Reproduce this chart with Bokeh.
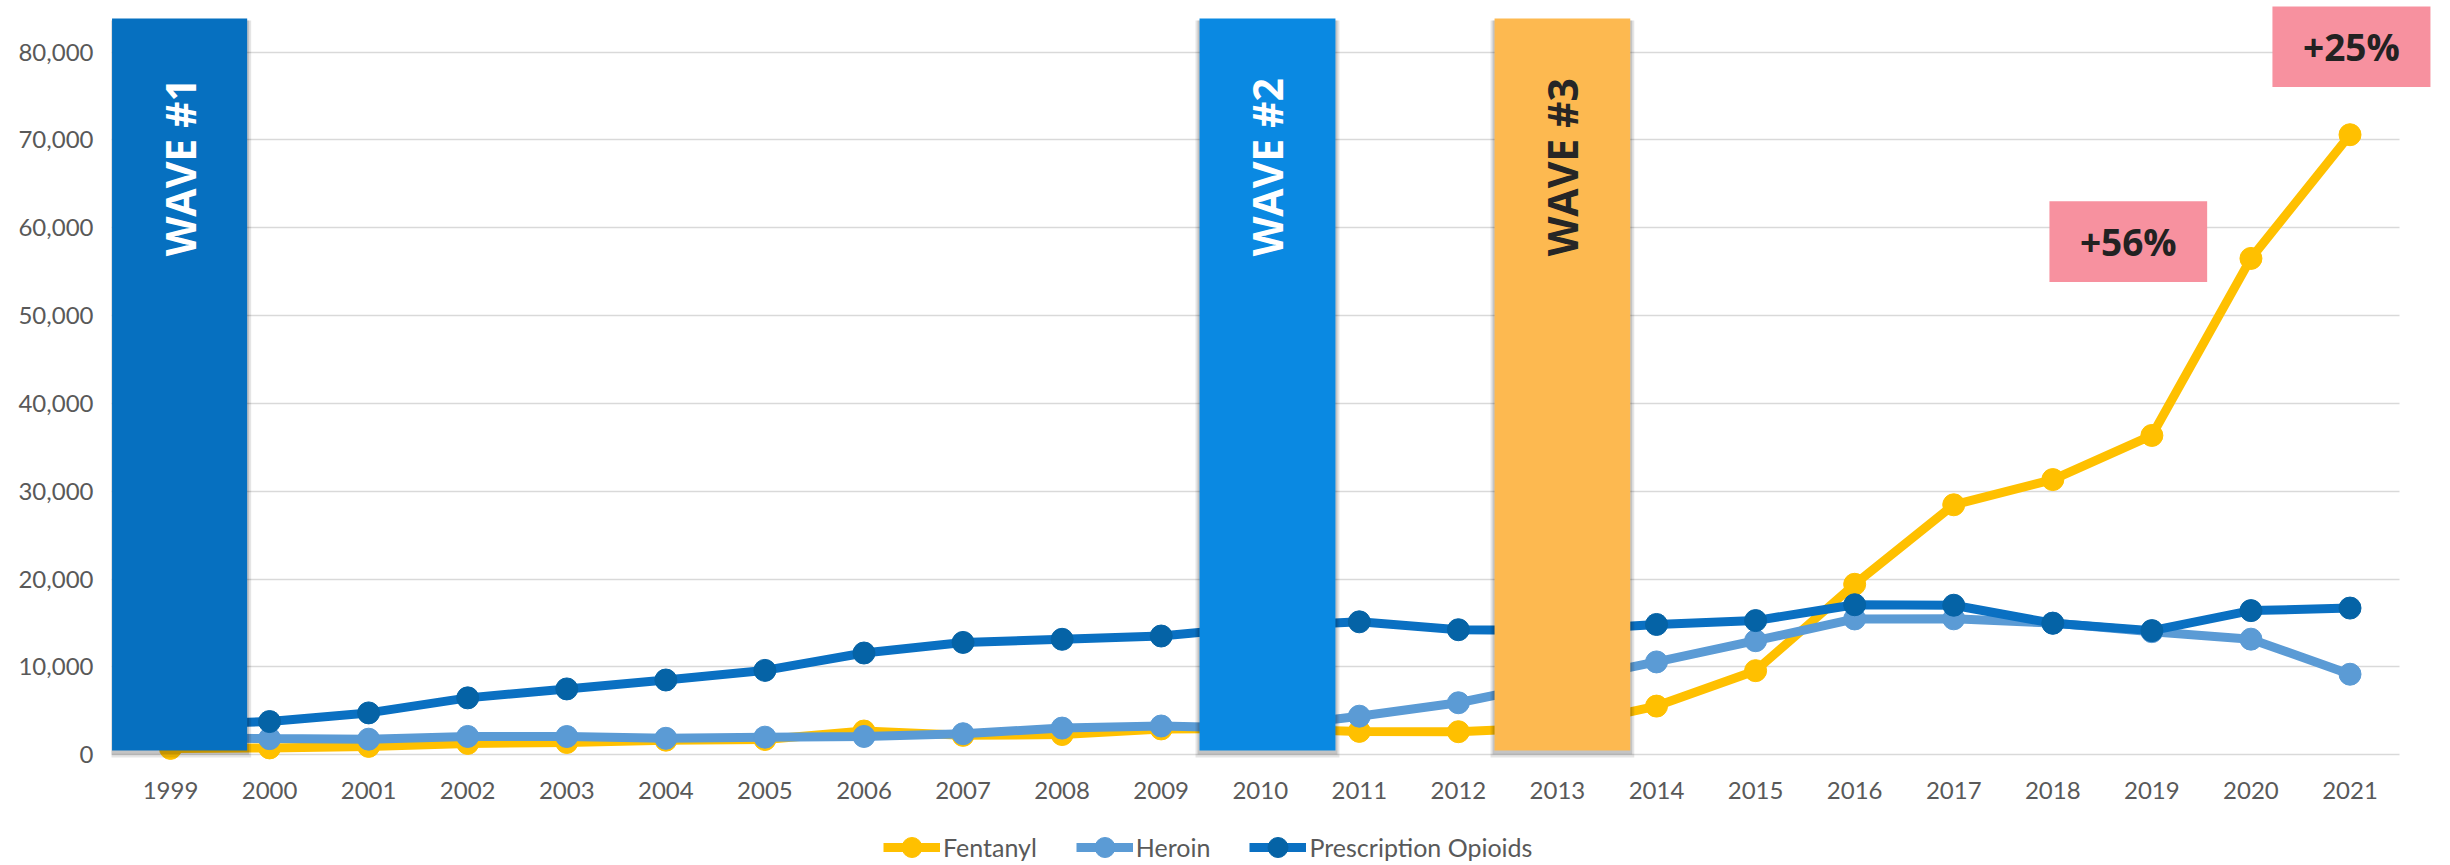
import numpy as np
from bokeh.plotting import figure
from bokeh.layouts import column
from bokeh.models import (BoxAnnotation, Label, Legend, LegendItem, FixedTicker,
                          NumeralTickFormatter, Range1d)
from bokeh.embed import file_html
from bokeh.resources import INLINE

# ---------------- data ----------------
years = [str(y) for y in range(1999, 2022)]
fentanyl = [730, 782, 957, 1295, 1400, 1664, 1742, 2707, 2213, 2306, 2946, 3007,
            2666, 2628, 3105, 5544, 9580, 19413, 28466, 31335, 36359, 56516, 70601]
heroin = [1960, 1842, 1779, 2089, 2080, 1878, 2009, 2088, 2399, 3041, 3278, 3036,
          4397, 5925, 8257, 10574, 12989, 15469, 15482, 14996, 14019, 13165, 9173]
prescription = [3442, 3785, 4770, 6482, 7500, 8516, 9612, 11589, 12796, 13149, 13523, 14583,
                15140, 14240, 14145, 14838, 15281, 17087, 17029, 14975, 14139, 16416, 16706]
series_names = ["Fentanyl", "Heroin", "Prescription Opioids"]
y_ticks = [0, 10000, 20000, 30000, 40000, 50000, 60000, 70000, 80000]

wave_labels = ["WAVE #1", "WAVE #2", "WAVE #3"]
change_labels = ["+56%", "+25%"]

# ---------------- layout / style ----------------
x = list(range(len(years)))
PX_X = 99.07          # pixels per year
PX_Y = 87.83 / 10000  # pixels per death
dx = lambda px: px / PX_X
dy = lambda px: px / PX_Y

X_START, X_END = -0.5955, 22.873
Y_START, Y_END = -877, 85882

wave_left = [-0.59, 10.387, 13.365]
wave_right = [0.774, 11.759, 14.735]
wave_top, wave_bottom = 83845, 490
wave_colors = ["#0670C0", "#0A89E2", "#FDB950"]
wave_text_colors = ["white", "white", "#262626"]
wave_text_y = 66900

box_left = [18.966, 21.217]
box_right = [20.558, 22.812]
box_top = [63026, 85210]
box_bottom = [53845, 76030]

line_colors = ["#FFC000", "#5B9BD5", "#0A70C2"]
marker_colors = ["#FFC000", "#5B9BD5", "#0563A6"]
LINE_W, MARK_S = 9, 22

p = figure(width=2450, height=810, output_backend="svg", toolbar_location=None,
           x_range=Range1d(X_START, X_END), y_range=Range1d(Y_START, Y_END),
           min_border_left=111, min_border_right=14, min_border_top=0,
           min_border_bottom=48)
p.title.visible = False
p.outline_line_color = None
p.background_fill_color = "white"
p.border_fill_color = "white"

# axes
p.xaxis.ticker = FixedTicker(ticks=x)
p.xaxis.major_label_overrides = {i: y for i, y in enumerate(years)}
p.yaxis.ticker = FixedTicker(ticks=y_ticks)
p.yaxis.formatter = NumeralTickFormatter(format="0,0")
for ax, standoff in ((p.xaxis, 19), (p.yaxis, 18)):
    ax.axis_line_color = None
    ax.major_tick_line_color = None
    ax.minor_tick_line_color = None
    ax.major_tick_out = 0
    ax.major_tick_in = 0
    ax.major_label_standoff = standoff
    ax.major_label_text_font = "Lato"
    ax.major_label_text_font_size = "24px"
    ax.major_label_text_color = "#595959"
p.xgrid.visible = False
p.ygrid.ticker = FixedTicker(ticks=y_ticks)
p.ygrid.grid_line_color = "#D9D9D9"
p.ygrid.grid_line_width = 1.5
try:
    p.ygrid.cross_bounds = (X_START, len(years) - 0.5)
except Exception:
    p.ygrid.visible = False
    p.segment(x0=[x[0] - 0.5 - 0.1] * len(y_ticks), x1=[x[-1] + 0.5] * len(y_ticks),
              y0=y_ticks, y1=y_ticks, line_color="#D9D9D9", line_width=1.5,
              level="underlay")

# series
for name, vals, lc, mc in zip(series_names, [fentanyl, heroin, prescription], line_colors, marker_colors):
    p.line(x, vals, line_color=lc, line_width=LINE_W)
    p.scatter(x, vals, size=MARK_S, fill_color=mc, line_color=mc)

# wave bars with soft shadow
for i in range(3):
    for grow, down, alpha in ((4, 7, 0.10), (2, 4, 0.14)):
        p.add_layout(BoxAnnotation(left=wave_left[i] - dx(grow), right=wave_right[i] + dx(grow),
                                   top=wave_top - dy(2), bottom=wave_bottom - dy(down),
                                   fill_color="black", fill_alpha=alpha,
                                   line_color=None, line_alpha=0))
    p.add_layout(BoxAnnotation(left=wave_left[i], right=wave_right[i],
                               top=wave_top, bottom=wave_bottom,
                               fill_color=wave_colors[i], fill_alpha=1,
                               line_color=None, line_alpha=0))
    p.add_layout(Label(x=(wave_left[i] + wave_right[i]) / 2, y=wave_text_y,
                       text=wave_labels[i], angle=np.pi / 2,
                       text_align="center", text_baseline="middle",
                       text_font="Open Sans", text_font_style="bold",
                       text_font_size="41px", text_color=wave_text_colors[i]))

# percentage boxes
for i in range(2):
    p.add_layout(BoxAnnotation(left=box_left[i], right=box_right[i],
                               top=box_top[i], bottom=box_bottom[i],
                               fill_color="#F7919F", fill_alpha=1,
                               line_color=None, line_alpha=0))
    p.add_layout(Label(x=(box_left[i] + box_right[i]) / 2, y=(box_top[i] + box_bottom[i]) / 2,
                       text=change_labels[i], text_align="center", text_baseline="middle",
                       text_font="Open Sans", text_font_style="bold",
                       text_font_size="37px", text_color="#222222"))

# ---------------- legend strip ----------------
pl = figure(width=2450, height=55, output_backend="svg", toolbar_location=None,
            x_range=Range1d(0, 1), y_range=Range1d(-2, -1), min_border=0)
pl.title.visible = False
pl.axis.visible = False
pl.grid.visible = False
pl.outline_line_color = None
items = []
for name, vals, lc, mc in zip(series_names, [fentanyl, heroin, prescription], line_colors, marker_colors):
    # same series, drawn outside this strip's visible range; used for the legend glyphs
    rl = pl.line(x, vals, line_color=lc, line_width=LINE_W)
    rs = pl.scatter(x, vals, size=MARK_S, fill_color=mc, line_color=mc)
    items.append(LegendItem(label=name, renderers=[rl, rs]))
legend = Legend(items=items, orientation="horizontal", location=(772, -7),
                glyph_width=57, glyph_height=50, label_standoff=3, spacing=39,
                padding=0, margin=0, border_line_color=None, background_fill_alpha=0,
                label_text_font="Lato", label_text_font_size="25px",
                label_text_color="#595959")
pl.add_layout(legend, "center")

layout = column(p, pl, spacing=0)
open("out.html", "w").write(file_html(layout, INLINE))
